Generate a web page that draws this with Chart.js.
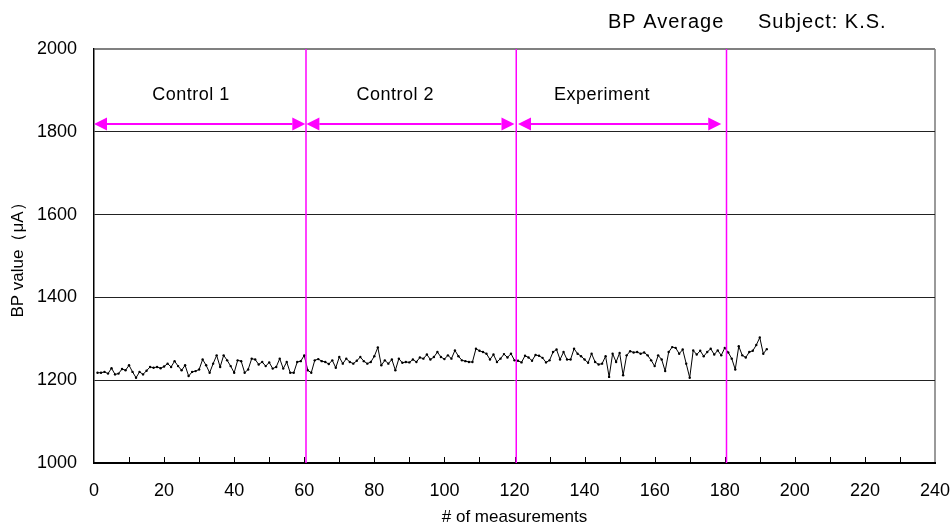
<!DOCTYPE html>
<html>
<head>
<meta charset="utf-8">
<title>BP Average</title>
<script src="https://cdn.jsdelivr.net/npm/chart.js@4.4.1/dist/chart.umd.min.js"></script>
<style>
  html, body { margin: 0; padding: 0; background: #fff; }
  #wrap { width: 951px; height: 529px; }
</style>
</head>
<body>
<div id="wrap"><canvas id="bp-chart" width="951" height="529"></canvas></div>
<script>
// --- Data ---
// BP value per measurement, measurement #1 .. #192
const bpValues = [
  1218, 1218, 1220, 1216, 1229, 1214, 1216, 1227, 1224, 1236,
  1220, 1206, 1220, 1214, 1223, 1232, 1230, 1232, 1229, 1233,
  1240, 1232, 1246, 1234, 1224, 1236, 1210, 1220, 1222, 1226,
  1250, 1236, 1218, 1240, 1260, 1232, 1260, 1248, 1234, 1218,
  1248, 1246, 1218, 1226, 1252, 1250, 1238, 1244, 1234, 1243,
  1228, 1232, 1252, 1228, 1244, 1218, 1218, 1244, 1246, 1260,
  1224, 1218, 1248, 1251, 1246, 1244, 1239, 1248, 1230, 1256,
  1240, 1252, 1244, 1240, 1247, 1256, 1246, 1240, 1244, 1258,
  1279, 1236, 1248, 1240, 1250, 1224, 1252, 1242, 1244, 1243,
  1250, 1244, 1255, 1252, 1262, 1250, 1256, 1268, 1256, 1251,
  1260, 1252, 1272, 1258, 1248, 1246, 1244, 1244, 1276, 1271,
  1268, 1264, 1250, 1262, 1244, 1252, 1263, 1255, 1264, 1248,
  1247, 1243, 1259, 1255, 1247, 1261, 1259, 1254, 1243, 1248,
  1268, 1274, 1250, 1268, 1250, 1250, 1276, 1264, 1258, 1250,
  1242, 1264, 1244, 1238, 1240, 1258, 1208, 1264, 1244, 1266,
  1212, 1260, 1270, 1267, 1268, 1264, 1267, 1260, 1248, 1234,
  1260, 1250, 1222, 1268, 1280, 1278, 1264, 1274, 1240, 1206,
  1272, 1262, 1271, 1258, 1268, 1276, 1262, 1272, 1260, 1278,
  1267, 1252, 1226, 1282, 1260, 1255, 1268, 1271, 1285, 1303,
  1264, 1275
];

// Phase boundaries (measurement #) and the labelled arrows between them
const phaseBounds = [60.5, 120.5, 180.5];
const phaseNames = ['Control 1', 'Control 2', 'Experiment'];
const phaseLabelX = [27.7, 86, 145];
const phaseArrowFrom = [0, 60.6, 121];
const phaseArrowTo = [60.3, 120, 179];
const phaseLabelY = 1889;
const phaseArrowY = 1819;

// Axis ranges / ticks
const xMin = 0, xMax = 240, xStep = 20, xMinorStep = 10;
const yMin = 1000, yMax = 2000, yStep = 200;

const FONT = "'Liberation Sans', Arial, sans-serif";
const MAGENTA = '#ff00ff';

// Build the points from the measurement index and value
const points = bpValues.map(function (v, i) { return { x: i + 1, y: v }; });

// --- Custom drawing: inward ticks, phase lines, arrows, labels, title ---
const overlayPlugin = {
  id: 'bpOverlay',
  afterDatasetsDraw: function (chart) {
    const ctx = chart.ctx;
    const xs = chart.scales.x;
    const ys = chart.scales.y;
    const area = chart.chartArea;

    ctx.save();

    // inward minor/major tick marks on the x axis
    ctx.strokeStyle = '#000';
    ctx.lineWidth = 1;
    for (let v = xMin + xMinorStep; v < xMax; v += xMinorStep) {
      const px = Math.round(xs.getPixelForValue(v)) + 0.5;
      ctx.beginPath();
      ctx.moveTo(px, area.bottom);
      ctx.lineTo(px, area.bottom - 6);
      ctx.stroke();
    }

    // magenta phase boundaries
    ctx.strokeStyle = MAGENTA;
    ctx.lineWidth = 1.5;
    phaseBounds.forEach(function (b) {
      const px = xs.getPixelForValue(b);
      ctx.beginPath();
      ctx.moveTo(px, ys.getPixelForValue(yMax));
      ctx.lineTo(px, ys.getPixelForValue(yMin));
      ctx.stroke();
    });

    // double headed arrows
    const head = 13, half = 6.5;
    const ay = ys.getPixelForValue(phaseArrowY);
    ctx.fillStyle = MAGENTA;
    ctx.lineWidth = 2;
    for (let i = 0; i < phaseNames.length; i++) {
      const x1 = xs.getPixelForValue(phaseArrowFrom[i]);
      const x2 = xs.getPixelForValue(phaseArrowTo[i]);
      ctx.beginPath();
      ctx.moveTo(x1 + head, ay);
      ctx.lineTo(x2 - head, ay);
      ctx.stroke();
      ctx.beginPath();
      ctx.moveTo(x1, ay);
      ctx.lineTo(x1 + head, ay - half);
      ctx.lineTo(x1 + head, ay + half);
      ctx.closePath();
      ctx.fill();
      ctx.beginPath();
      ctx.moveTo(x2, ay);
      ctx.lineTo(x2 - head, ay - half);
      ctx.lineTo(x2 - head, ay + half);
      ctx.closePath();
      ctx.fill();
    }

    // phase labels
    ctx.fillStyle = '#000';
    ctx.font = '18px ' + FONT;
    ctx.letterSpacing = '0.5px';
    ctx.textAlign = 'center';
    ctx.textBaseline = 'middle';
    for (let i = 0; i < phaseNames.length; i++) {
      ctx.fillText(phaseNames[i], xs.getPixelForValue(phaseLabelX[i]), ys.getPixelForValue(phaseLabelY));
    }

    // chart title (top right)
    ctx.font = '20px ' + FONT;
    ctx.letterSpacing = '1px';
    ctx.textAlign = 'left';
    ctx.fillText('BP Average', 608, 22);
    ctx.fillText('Subject: K.S.', 758, 22);

    ctx.restore();
  }
};

const config = {
  type: 'line',
  data: {
    datasets: [{
      label: 'BP Average',
      data: points,
      borderColor: '#000',
      backgroundColor: '#000',
      borderWidth: 1,
      pointRadius: 1.2,
      pointBorderWidth: 0,
      pointBackgroundColor: '#000',
      tension: 0,
      fill: false
    }]
  },
  options: {
    responsive: false,
    animation: false,
    devicePixelRatio: 1,
    layout: { padding: { top: 49, right: 0, left: 0, bottom: 0 } },
    plugins: {
      legend: { display: false },
      tooltip: { enabled: false },
      title: { display: false }
    },
    scales: {
      x: {
        type: 'linear',
        min: xMin,
        max: xMax,
        afterFit: function (scale) {
          scale.height = 66;
          scale.paddingRight = 16;
          scale.paddingLeft = 0;
        },
        ticks: {
          stepSize: xStep,
          padding: 17,
          color: '#000',
          font: { family: FONT, size: 18 },
          maxRotation: 0
        },
        grid: {
          drawTicks: false,
          color: function (c) { return c.tick && c.tick.value === xMax ? '#9a9a9a' : 'rgba(0,0,0,0)'; },
          lineWidth: 2
        },
        border: { display: true, color: '#000', width: 2 },
        title: {
          display: true,
          text: '# of measurements',
          color: '#000',
          font: { family: FONT, size: 17 },
          padding: { top: 0, bottom: 1 }
        }
      },
      y: {
        min: yMin,
        max: yMax,
        afterFit: function (scale) { scale.width = 94; },
        ticks: {
          stepSize: yStep,
          padding: 17,
          color: '#000',
          font: { family: FONT, size: 18 },
          callback: function (value) { return String(value); }
        },
        grid: {
          drawTicks: false,
          color: function (c) { return c.tick && c.tick.value === yMax ? '#808080' : '#222'; },
          lineWidth: function (c) { return c.tick && c.tick.value === yMax ? 2 : 1; }
        },
        border: { display: true, color: '#000', width: 1.5 },
        title: {
          display: true,
          text: 'BP value（μA）',
          color: '#000',
          font: { family: FONT, size: 17 },
          padding: { top: 8, bottom: 0 }
        }
      }
    }
  },
  plugins: [overlayPlugin]
};

new Chart(document.getElementById('bp-chart'), config);
</script>
</body>
</html>
